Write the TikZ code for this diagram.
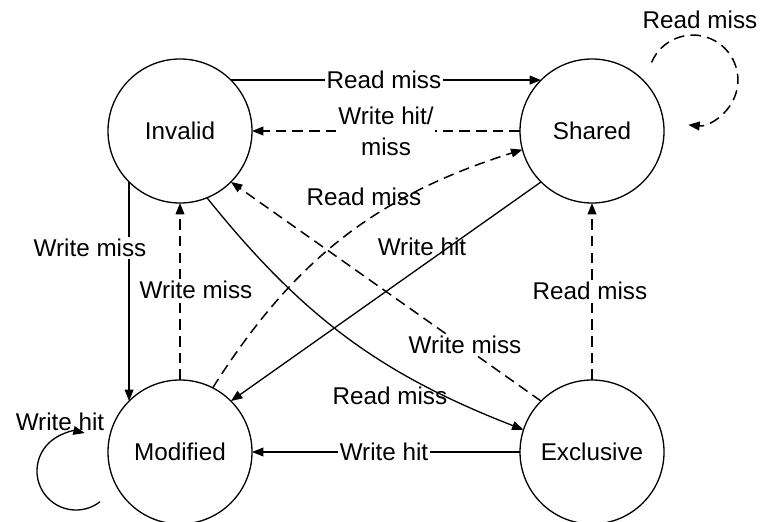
\documentclass[tikz,border=0pt]{standalone}
\usepackage{fontspec}
\setmainfont{Liberation Sans}
\usetikzlibrary{arrows.meta}
\tikzset{
  state/.style={draw,circle,minimum size=2.88cm,inner sep=0pt,outer sep=0pt,line width=0.75pt,font=\fontsize{13.8}{17.6}\selectfont},
  tr/.style={line width=0.75pt,-{Triangle[length=6.5pt,width=5pt]}},
  dsh/.style={line width=0.85pt,dash pattern=on 6pt off 3.5pt},
  lbl/.style={inner sep=1pt,font=\fontsize{13.8}{17.6}\selectfont},
  cut/.style={lbl,fill=white},
}
\begin{document}
\begin{tikzpicture}
    \useasboundingbox (0,0) rectangle (15.28,10.42);
    \node[state] (I) at (3.6,7.8) {Invalid};
    \node[state] (S) at (11.84,7.8) {Shared};
    \node[state] (M) at (3.6,1.38) {Modified};
    \node[state] (E) at (11.84,1.38) {Exclusive};
    \coordinate (sl) at (13.03,9.17);
    \coordinate (ml) at (2.0,0.385);
    % transitions
    \draw[tr] (I.45) -- (S.135);
    \draw[tr,dsh] (S.180) -- (I.0);
    \draw[tr,dsh] (M.63) to[bend left=20] (S.195);
    \draw[tr] (S.225) -- (M.45);
    \draw[tr] (I.-135) -- (M.135);
    \draw[tr,dsh] (M.90) -- (I.-90);
    \draw[tr,dsh] (E.135) -- (I.-45);
    \draw[tr] (I.-68) to[bend right=15] (E.162);
    \draw[tr,dsh] (E.90) -- (S.-90);
    \draw[tr] (E.180) -- (M.0);
    \draw[tr,dsh] (sl) arc[start angle=157,end angle=-96,radius=0.9];
    \draw[tr] (ml) arc[start angle=-52,end angle=-283,radius=0.78];
    % labels
    \node[cut] (l1) at (7.68,8.82) {Read miss};
    \node[cut,align=center] (l2) at (7.72,7.8) {Write hit/\\miss};
    \node[lbl] (l3) at (7.28,6.48) {Read miss};
    \node[lbl] (l4) at (8.44,5.48) {Write hit};
    \node[cut] (l5) at (1.8,5.46) {Write miss};
    \node[cut] (l6) at (3.92,4.62) {Write miss};
    \node[cut] (l7) at (11.8,4.6) {Read miss};
    \node[cut] (l8) at (9.3,3.52) {Write miss};
    \node[lbl] (l9) at (7.8,2.5) {Read miss};
    \node[cut] (l10) at (7.68,1.38) {Write hit};
    \node[lbl] (l11) at (14.0,10.02) {Read miss};
    \node[lbl] (l12) at (1.2,1.98) {Write hit};
\end{tikzpicture}
\end{document}
